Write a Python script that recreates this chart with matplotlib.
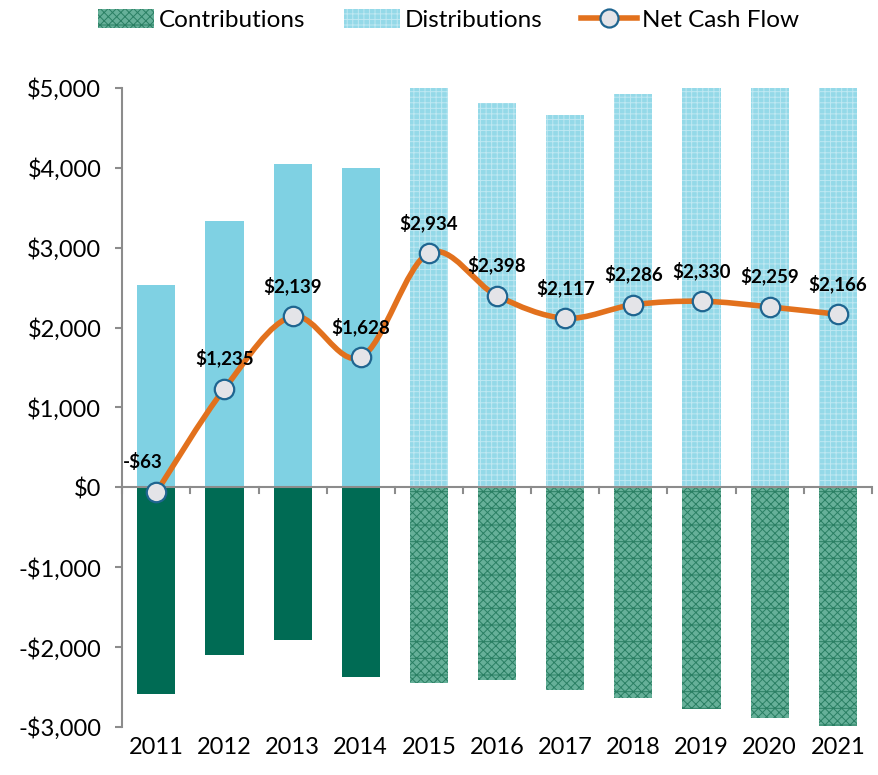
import matplotlib
matplotlib.use("Agg")
import matplotlib.pyplot as plt
import numpy as np
from matplotlib.path import Path
from matplotlib.patches import PathPatch, Patch
from matplotlib.lines import Line2D
import matplotlib.ticker as mticker

plt.rcParams['font.family'] = ['Lato', 'DejaVu Sans']
plt.rcParams['hatch.linewidth'] = 0.7

years = ['2011', '2012', '2013', '2014', '2015', '2016', '2017', '2018', '2019', '2020', '2021']
contributions = [-2590, -2100, -1915, -2375, -2450, -2415, -2540, -2640, -2780, -2890, -2990]
distributions = [2527, 3335, 4054, 4003, 5384, 4813, 4657, 4926, 5110, 5149, 5156]
net_cash_flow = [-63, 1235, 2139, 1628, 2934, 2398, 2117, 2286, 2330, 2259, 2166]
n_actual = 4  # first four years solid, rest patterned

fig = plt.figure(figsize=(8.79, 7.75), dpi=100)
ax = fig.add_axes([0.139, 0.062, 0.853, 0.8245])

x = np.arange(len(years))
w = 0.56
grey = '#8c8c8c'

dist_hatch = dict(facecolor='#94d9e8', edgecolor='#bfe8f2', hatch='+++', linewidth=0)
cont_hatch = dict(facecolor='#66b099', edgecolor='#2a7f63', hatch='xxxx-', linewidth=0)

for i in range(len(years)):
    if i < n_actual:
        ax.bar(x[i], distributions[i], width=w, color='#7fd1e3', zorder=2)
        ax.bar(x[i], contributions[i], width=w, color='#006b54', zorder=2)
    else:
        ax.bar(x[i], distributions[i], width=w, zorder=2, **dist_hatch)
        ax.bar(x[i], contributions[i], width=w, zorder=2, **cont_hatch)

ax.axhline(0, color=grey, lw=1.5, zorder=3)

# smoothed net cash flow line (Catmull-Rom rendered as cubic Bezier)
pts = np.column_stack([x, net_cash_flow]).astype(float)
verts = [pts[0]]
codes = [Path.MOVETO]
for i in range(len(pts) - 1):
    p0 = pts[i - 1] if i > 0 else pts[i]
    p1 = pts[i]
    p2 = pts[i + 1]
    p3 = pts[i + 2] if i + 2 < len(pts) else pts[i + 1]
    c1 = p1 + (p2 - p0) / 6.0
    c2 = p2 - (p3 - p1) / 6.0
    verts += [c1, c2, p2]
    codes += [Path.CURVE4] * 3
ax.add_patch(PathPatch(Path(verts, codes), facecolor='none', edgecolor='#e2711d',
                       lw=4, zorder=4, capstyle='round'))
ax.plot(x, net_cash_flow, linestyle='none', marker='o', markersize=14,
        markerfacecolor='#e4e4e8', markeredgecolor='#1f6590', markeredgewidth=1.6, zorder=5)

for i, v in enumerate(net_cash_flow):
    lab = ('-$' if v < 0 else '$') + f"{abs(v):,}"
    dx = -10 if i == 0 else 0
    ax.annotate(lab, (x[i], v), xytext=(dx, 22), textcoords='offset points',
                ha='center', va='center', fontsize=13.5, fontweight='bold', zorder=6)

ax.set_xlim(-0.5, len(years) - 0.5)
ax.set_ylim(-3000, 5000)
ax.yaxis.set_major_locator(mticker.MultipleLocator(1000))
ax.yaxis.set_major_formatter(mticker.FuncFormatter(
    lambda v, p: ('-$' if v < 0 else '$') + f"{abs(int(v)):,}"))
ax.tick_params(axis='y', labelsize=17, length=5, color=grey, width=1.5, pad=10)

ax.set_xticks(x)
ax.set_xticklabels(years)
ax.tick_params(axis='x', length=0, labelsize=17, pad=7)
# category boundary ticks on the zero line
for b in np.arange(-0.5, len(years), 1.0):
    ax.plot([b, b], [0, -75], color=grey, lw=1.5, zorder=3, clip_on=False)

for s in ['top', 'right', 'bottom']:
    ax.spines[s].set_visible(False)
ax.spines['left'].set_color(grey)
ax.spines['left'].set_linewidth(1.5)

handles = [
    Patch(label='Contributions', **cont_hatch),
    Patch(label='Distributions', **dist_hatch),
    Line2D([0], [0], color='#e2711d', lw=4, marker='o', markersize=13,
           markerfacecolor='#e4e4e8', markeredgecolor='#1f6590', markeredgewidth=1.6,
           label='Net Cash Flow'),
]
fig.legend(handles=handles, loc='upper center', bbox_to_anchor=(0.51, 1.016), ncol=3,
           frameon=False, fontsize=17.5, handlelength=2.3, handleheight=0.8,
           columnspacing=1.6, handletextpad=0.2)

fig.savefig('out.png', dpi=100)
